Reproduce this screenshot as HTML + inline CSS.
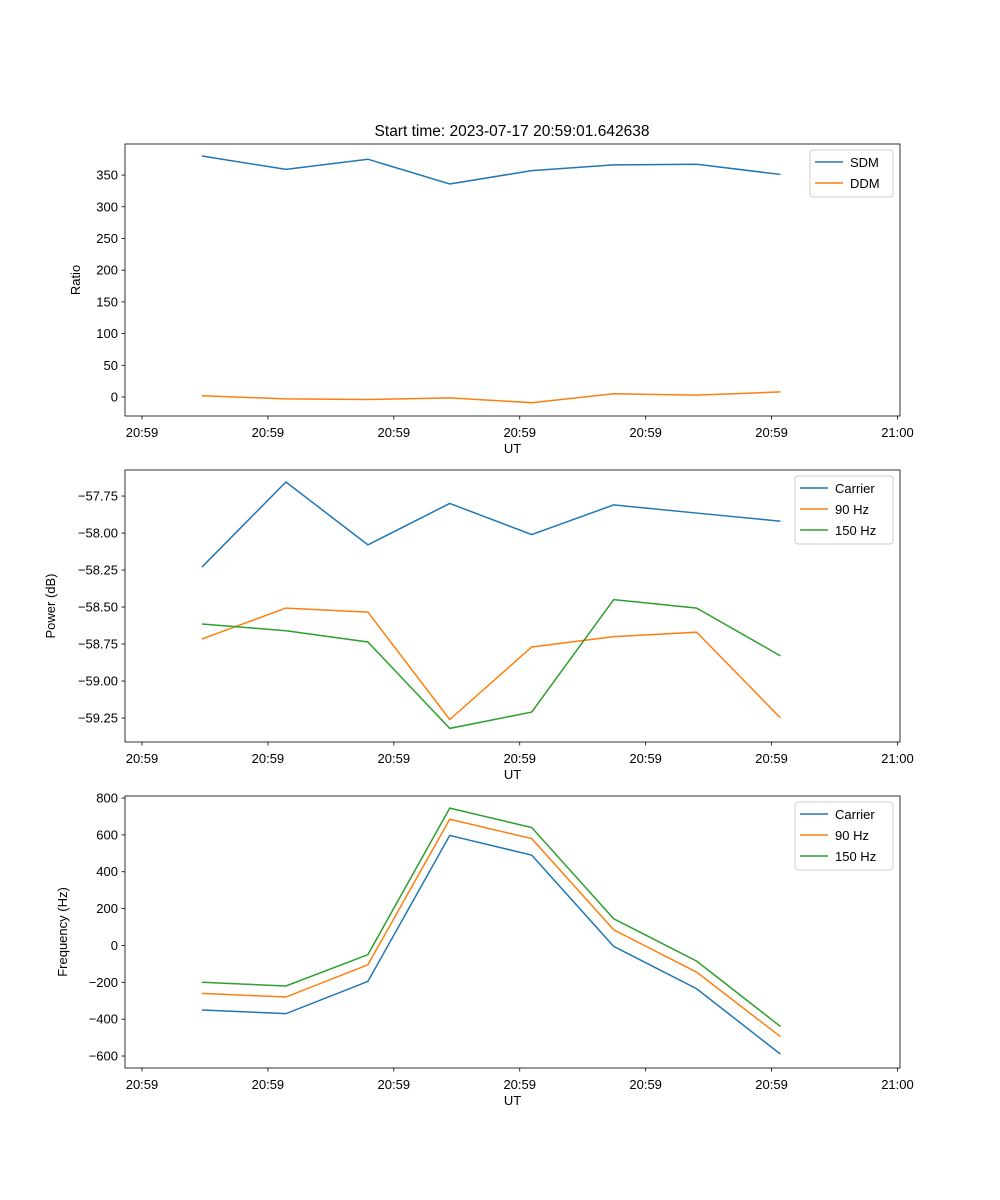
<!DOCTYPE html>
<html><head><meta charset="utf-8"><style>
body{margin:0;background:#fff}
svg{font-family:"Liberation Sans","DejaVu Sans",sans-serif;display:block}
</style></head><body>
<svg id="fig" width="1000" height="1200" xmlns="http://www.w3.org/2000/svg">
<rect width="1000" height="1200" fill="#fff"/>
<text x="512" y="136" text-anchor="middle" font-size="15.5">Start time: 2023-07-17 20:59:01.642638</text>
</svg>
<script>
const times = [4.76, 11.43, 17.94, 24.44, 30.95, 37.46, 44.05, 50.71];
const xTickVals = [0, 10, 20, 30, 40, 50, 60];
const xTickLabels = ["20:59","20:59","20:59","20:59","20:59","20:59","21:00"];
const sdm = [380, 359, 375, 336, 357, 366, 367, 351];
const ddm = [2, -3, -4, -1.5, -9, 5, 3, 8];
const pCarrier = [-58.23, -57.655, -58.08, -57.80, -58.01, -57.81, -57.865, -57.92];
const p90 = [-58.716, -58.507, -58.534, -59.26, -58.77, -58.70, -58.67, -59.25];
const p150 = [-58.615, -58.66, -58.736, -59.32, -59.21, -58.45, -58.507, -58.83];
const fCarrier = [-350, -370, -195, 597, 490, -5, -235, -590];
const f90 = [-260, -280, -105, 685, 580, 85, -145, -495];
const f150 = [-200, -220, -50, 745, 640, 145, -85, -440];
const ticks1 = [0,50,100,150,200,250,300,350];
const ticks2 = [-57.75,-58.00,-58.25,-58.50,-58.75,-59.00,-59.25];
const ticks3 = [-600,-400,-200,0,200,400,600,800];

const NS="http://www.w3.org/2000/svg", svg=document.getElementById('fig');
const C=['#1f77b4','#ff7f0e','#2ca02c'];
const L=125,R=900,xmin=-1.35,xmax=60.2;
const xs=t=>L+(t-xmin)/(xmax-xmin)*(R-L);
function el(tag,a,p){const e=document.createElementNS(NS,tag);for(const k in a)e.setAttribute(k,a[k]);(p||svg).appendChild(e);return e;}
function panel(id,top,bot,ymin,ymax,ticks,fmt,ylabel,series,names,leg){
 const g=el('g',{});
 
 
 const ys=v=>bot-(v-ymin)/(ymax-ymin)*(bot-top);
 series.forEach((s,i)=>{
  const pl=el('polyline',{points:s.map((v,j)=>xs(times[j])+','+ys(v)).join(' '),fill:'none',stroke:C[i],'stroke-width':1.5},g);
  
  
 });
 el('rect',{x:L,y:top,width:R-L,height:bot-top,fill:'none',stroke:'#000','stroke-width':0.8},g);
 xTickVals.forEach((t,i)=>{const x=xs(t);el('line',{x1:x,x2:x,y1:bot,y2:bot+3.5,stroke:'#000','stroke-width':0.8},g);
  const tx=el('text',{x:x,y:bot+21,'text-anchor':'middle','font-size':13},g);tx.textContent=xTickLabels[i];
  });
 ticks.forEach(v=>{const y=ys(v);el('line',{x1:L-3.5,x2:L,y1:y,y2:y,stroke:'#000','stroke-width':0.8},g);
  const tx=el('text',{x:L-7,y:y+4.5,'text-anchor':'end','font-size':13},g);tx.textContent=fmt(v);
  });
 const xl=el('text',{x:(L+R)/2,y:bot+37,'text-anchor':'middle','font-size':13},g);xl.textContent='UT';
 
 const yl=el('text',{x:0,y:0,'text-anchor':'middle','font-size':13,transform:`translate(${leg.yx},${(top+bot)/2}) rotate(-90)`},g);yl.textContent=ylabel;
 
 const lg=el('g',{},g);
 
 el('rect',{x:leg.x,y:top+6,width:R-7-leg.x,height:names.length*21+5,rx:3,fill:'#fff','fill-opacity':0.8,stroke:'#ccc'},lg);
 names.forEach((n,i)=>{const y=top+18+i*21;
  el('line',{x1:leg.x+5,x2:leg.x+33,y1:y,y2:y,stroke:C[i],'stroke-width':1.5},lg);
  const t=el('text',{x:leg.x+40,y:y+5,'font-size':13},lg);t.textContent=n;
  });
}
panel('ratio',144,416,-30,399,ticks1,v=>String(v),'Ratio',[sdm,ddm],['SDM','DDM'],{x:810,yx:80});
panel('power',470,742,-59.412,-57.574,ticks2,v=>'\u2212'+Math.abs(v).toFixed(2),'Power (dB)',[pCarrier,p90,p150],['Carrier','90 Hz','150 Hz'],{x:795,yx:55});
panel('frequency',796,1068,-665,811,ticks3,v=>(v<0?'\u2212':'')+Math.abs(v),'Frequency (Hz)',[fCarrier,f90,f150],['Carrier','90 Hz','150 Hz'],{x:795,yx:67});
</script>
</body></html>
